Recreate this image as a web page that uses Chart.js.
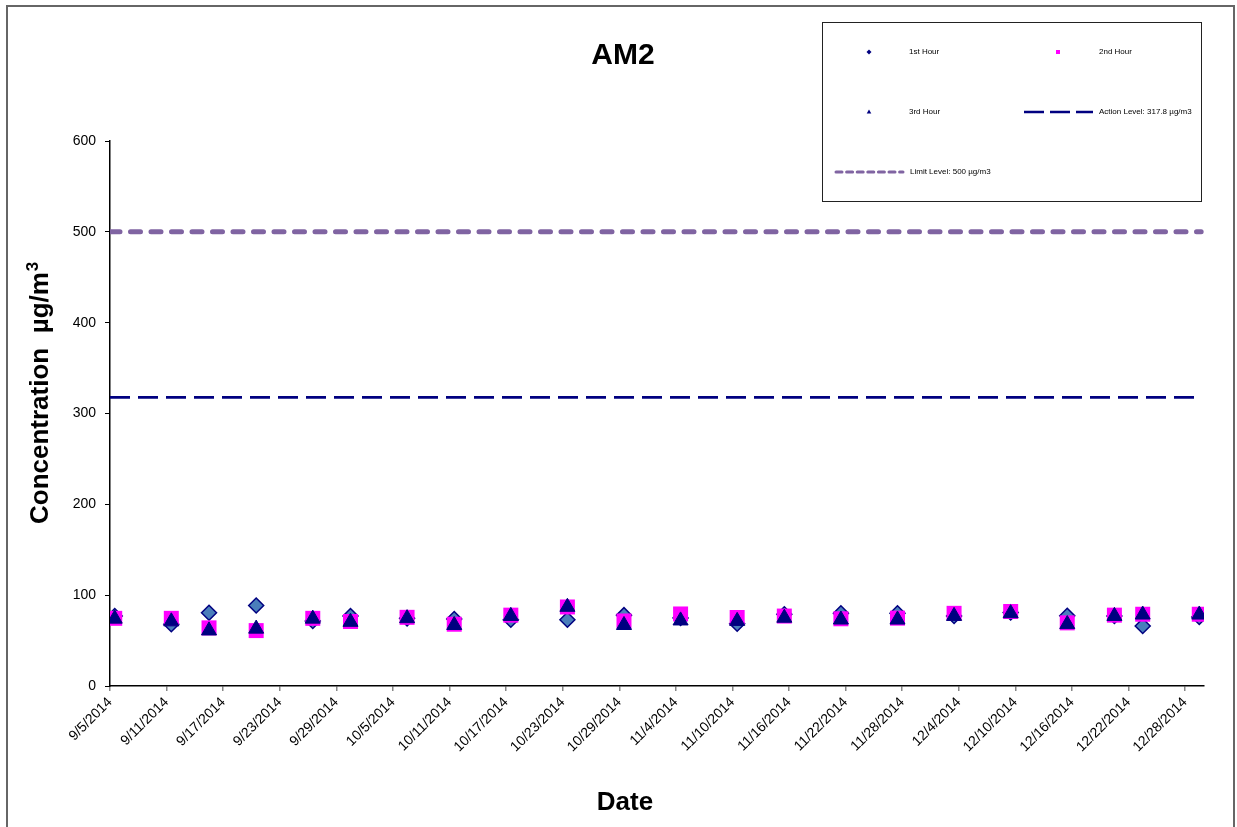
<!DOCTYPE html>
<html>
<head>
<meta charset="utf-8">
<title>AM2</title>
<script src="https://cdn.jsdelivr.net/npm/chart.js@4.4.1/dist/chart.umd.min.js"></script>
<style>
  html, body { margin: 0; padding: 0; background: #fff; }
  canvas { display: block; }
</style>
</head>
<body>
<canvas id="am2-chart" width="1237" height="827"></canvas>
<script>
// sampling dates and the three hourly readings (µg/m3)
const DATES = ["9/5/2014", "9/11/2014", "9/15/2014", "9/20/2014", "9/26/2014", "9/30/2014",
  "10/6/2014", "10/11/2014", "10/17/2014", "10/23/2014", "10/29/2014", "11/4/2014",
  "11/10/2014", "11/15/2014", "11/21/2014", "11/27/2014", "12/3/2014", "12/9/2014",
  "12/15/2014", "12/20/2014", "12/23/2014", "12/29/2014"];
const HOUR_1 = [77, 68, 80.6, 88.6, 71.5, 77, 74.5, 73.7, 73, 73, 78, 75,
  68.6, 79, 80, 80, 77, 81, 77.4, 77, 66, 76];
const HOUR_2 = [74.5, 74.5, 64, 61, 74.5, 71, 75.6, 68, 78, 87, 71.6, 79.3,
  75.4, 77, 74, 74.7, 80, 82, 69.5, 78, 79, 79];
const HOUR_3 = [74, 71, 61, 63, 74, 70.5, 74.5, 67, 77, 87, 67, 72,
  71.5, 75, 73, 73, 77, 80, 68, 77, 78.5, 78.5];

const ACTION_LEVEL = 317.8;
const LIMIT_LEVEL = 500;

const TICK_LABELS = ["9/5/2014", "9/11/2014", "9/17/2014", "9/23/2014", "9/29/2014",
  "10/5/2014", "10/11/2014", "10/17/2014", "10/23/2014", "10/29/2014", "11/4/2014",
  "11/10/2014", "11/16/2014", "11/22/2014", "11/28/2014", "12/4/2014", "12/10/2014",
  "12/16/2014", "12/22/2014", "12/28/2014"];
const Y_TICKS = [0, 100, 200, 300, 400, 500, 600];

const AXIS_FIRST_DAY = "9/5/2014";
const AXIS_LAST_DAY = "12/29/2014";

// days since the first axis day; Excel puts each point in the middle of its day
function dayIndex(s) {
  const [m, d, y] = s.split("/").map(Number);
  const [m0, d0, y0] = AXIS_FIRST_DAY.split("/").map(Number);
  return (Date.UTC(y, m - 1, d) - Date.UTC(y0, m0 - 1, d0)) / 86400000;
}
const X_MIN = dayIndex(AXIS_FIRST_DAY) - 0.5;
const X_MAX = dayIndex(AXIS_LAST_DAY) + 0.5;

const NAVY = "#000080";
const MAGENTA = "#FF00FF";
const STEEL = "#4A7EBB";
const LAVENDER = "#8064A2";

function points(values) {
  return values.map((v, i) => ({ x: dayIndex(DATES[i]), y: v }));
}

const chartBackground = {
  id: "chart_background",
  beforeDraw: (chart) => {
    const ctx = chart.ctx;
    ctx.save();
    ctx.fillStyle = "#fff";
    ctx.fillRect(0, 0, chart.width, chart.height);
    // outer frame of the chart object
    ctx.strokeStyle = "#666";
    ctx.lineWidth = 2;
    ctx.strokeRect(7, 6, 1227, 840);
    ctx.restore();
  }
};

const titles = {
  id: "titles",
  afterDraw: (chart) => {
    const ctx = chart.ctx;
    ctx.save();
    ctx.fillStyle = "#000";
    ctx.textAlign = "center";
    ctx.textBaseline = "middle";
    ctx.font = "bold 30px Arial, 'Liberation Sans'";
    ctx.fillText("AM2", 623, 56);

    ctx.font = "bold 26px Arial, 'Liberation Sans'";
    ctx.fillText("Date", 625, 803);

    // y title with superscript 3
    ctx.translate(48, 524);
    ctx.rotate(-Math.PI / 2);
    ctx.textAlign = "left";
    ctx.textBaseline = "alphabetic";
    const main = "Concentration  µg/m";
    ctx.font = "bold 26px Arial, 'Liberation Sans'";
    ctx.fillText(main, 0, 0);
    const w = ctx.measureText(main).width;
    ctx.font = "bold 17px Arial, 'Liberation Sans'";
    ctx.fillText("3", w + 1, -10);
    ctx.restore();
  }
};

const boxLegend = {
  id: "box_legend",
  afterDraw: (chart) => {
    const ctx = chart.ctx;
    const ds = chart.data.datasets;
    ctx.save();
    ctx.fillStyle = "#fff";
    ctx.fillRect(822.5, 22.5, 379, 179);
    ctx.strokeStyle = "#222";
    ctx.lineWidth = 1;
    ctx.strokeRect(822.5, 22.5, 379, 179);

    const items = [
      { d: ds[0], mx: 869, y: 52, tx: 909 },
      { d: ds[1], mx: 1058, y: 52, tx: 1099 },
      { d: ds[2], mx: 869, y: 112, tx: 909 },
      { d: ds[3], x0: 1024, x1: 1093, y: 112, tx: 1099, w: 2.5, dash: [20, 6] },
      { d: ds[4], x0: 836, x1: 903, y: 172, tx: 910, w: 3, dash: [6, 4.6] }
    ];
    ctx.font = "8px Arial, 'Liberation Sans'";
    ctx.textBaseline = "middle";
    items.forEach((it) => {
      const d = it.d;
      if (d.showLine) {
        ctx.save();
        ctx.strokeStyle = d.borderColor;
        ctx.lineWidth = it.w;
        ctx.lineCap = d.borderCapStyle || "butt";
        ctx.setLineDash(it.dash);
        ctx.beginPath();
        ctx.moveTo(it.x0, it.y);
        ctx.lineTo(it.x1, it.y);
        ctx.stroke();
        ctx.restore();
      } else {
        ctx.fillStyle = d.legendColor;
        ctx.beginPath();
        if (d.pointStyle === "rectRot") {
          ctx.moveTo(it.mx, it.y - 2.5);
          ctx.lineTo(it.mx + 2.5, it.y);
          ctx.lineTo(it.mx, it.y + 2.5);
          ctx.lineTo(it.mx - 2.5, it.y);
        } else if (d.pointStyle === "rect") {
          ctx.rect(it.mx - 2, it.y - 2, 4, 4);
        } else {
          ctx.moveTo(it.mx, it.y - 2.5);
          ctx.lineTo(it.mx + 2.3, it.y + 1.5);
          ctx.lineTo(it.mx - 2.3, it.y + 1.5);
        }
        ctx.closePath();
        ctx.fill();
      }
      ctx.fillStyle = "#000";
      ctx.fillText(d.label, it.tx, it.y);
    });
    ctx.restore();
  }
};

const data = {
  datasets: [
    {
      label: "1st Hour",
      data: points(HOUR_1),
      pointStyle: "rectRot",
      pointRadius: 7.5,
      pointBackgroundColor: STEEL,
      pointBorderColor: NAVY,
      pointBorderWidth: 1.5,
      legendColor: NAVY,
      order: 3
    },
    {
      label: "2nd Hour",
      data: points(HOUR_2),
      pointStyle: "rect",
      pointRadius: 10.6,
      pointBackgroundColor: MAGENTA,
      pointBorderColor: MAGENTA,
      pointBorderWidth: 0,
      legendColor: MAGENTA,
      order: 2
    },
    {
      label: "3rd Hour",
      data: points(HOUR_3),
      pointStyle: "triangle",
      pointRadius: 8.7,
      pointBackgroundColor: NAVY,
      pointBorderColor: NAVY,
      pointBorderWidth: 1,
      legendColor: NAVY,
      order: 1
    },
    {
      label: "Action Level: 317.8 µg/m3",
      data: [{ x: X_MIN, y: ACTION_LEVEL }, { x: X_MAX - 0.3, y: ACTION_LEVEL }],
      showLine: true,
      borderColor: NAVY,
      borderWidth: 2.7,
      borderDash: [20, 8],
      pointRadius: 0,
      order: 4
    },
    {
      label: "Limit Level: 500 µg/m3",
      data: [{ x: X_MIN, y: LIMIT_LEVEL }, { x: X_MAX - 0.3, y: LIMIT_LEVEL }],
      showLine: true,
      borderColor: LAVENDER,
      borderWidth: 5,
      borderDash: [10, 10.5],
      borderCapStyle: "round",
      pointRadius: 0,
      order: 5
    }
  ]
};

const config = {
  type: "scatter",
  data: data,
  plugins: [chartBackground, titles, boxLegend],
  options: {
    responsive: false,
    animation: false,
    events: [],
    layout: { padding: { left: 0, top: 141, right: 33, bottom: 0 } },
    plugins: {
      legend: { display: false },
      title: { display: false },
      tooltip: { enabled: false }
    },
    scales: {
      x: {
        type: "linear",
        min: X_MIN,
        max: X_MAX,
        afterBuildTicks: (scale) => {
          scale.ticks = TICK_LABELS.map((l) => ({ value: dayIndex(l) - 0.5 }));
        },
        afterFit: (scale) => { scale.height = 141; },
        ticks: {
          autoSkip: false,
          minRotation: 45,
          maxRotation: 45,
          padding: 3,
          color: "#000",
          font: { family: "Arial, 'Liberation Sans'", size: 14 },
          callback: (value, index) => TICK_LABELS[index]
        },
        grid: { drawOnChartArea: false, tickLength: 5, color: "#888", lineWidth: 1.5 },
        border: { color: "#000", width: 1.5 }
      },
      y: {
        min: 0,
        max: 600,
        afterBuildTicks: (scale) => {
          scale.ticks = Y_TICKS.map((v) => ({ value: v }));
        },
        afterFit: (scale) => { scale.width = 110; },
        ticks: {
          padding: 9,
          color: "#000",
          font: { family: "Arial, 'Liberation Sans'", size: 14 }
        },
        grid: { drawOnChartArea: false, tickLength: 5, color: "#000", lineWidth: 1 },
        border: { color: "#000", width: 1.5 }
      }
    }
  }
};

const am2Chart = new Chart(document.getElementById("am2-chart"), config);
</script>
</body>
</html>
